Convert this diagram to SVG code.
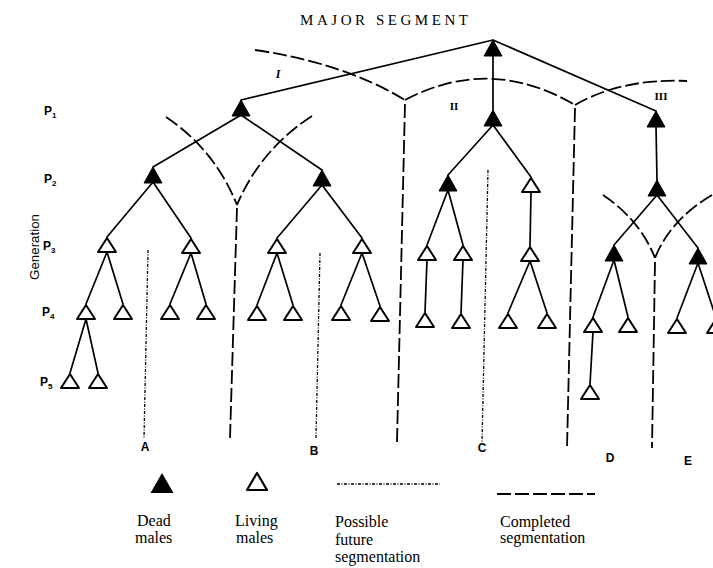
<svg xmlns="http://www.w3.org/2000/svg" xmlns:xlink="http://www.w3.org/1999/xlink" width="713" height="568" viewBox="0 0 713 568">
<style>
.t{stroke:#000;stroke-width:1.7;fill:none;stroke-linecap:round}
.c{stroke:#000;stroke-width:1.8;fill:none;stroke-dasharray:14 4}
.f{stroke:#000;stroke-width:1.3;fill:none;stroke-dasharray:3 1.5 1 1.5}
.serif{font-family:"Liberation Serif","Times New Roman",serif;fill:#000}
.sans{font-family:"Liberation Sans",Arial,sans-serif;fill:#000}
.p{font-size:12px;font-weight:bold}
.l{font-size:12px;font-weight:bold}
</style>
<defs>
<path id="dead" d="M0,0 L9,16 L-9,16 Z" fill="#000" stroke="#000" stroke-width="1"/>
<path id="live" d="M0,1 L9,15 L-9,15 Z" fill="#fff" stroke="#000" stroke-width="2" stroke-linejoin="round"/>
</defs>
<rect width="713" height="568" fill="#fff"/>
<text class="serif" x="300" y="25" font-size="15" textLength="168" lengthAdjust="spacing">MAJOR SEGMENT</text>

<g id="labels">
<text class="sans p" x="44" y="115">P<tspan font-size="8" dy="3">1</tspan></text>
<text class="sans p" x="44" y="183">P<tspan font-size="8" dy="3">2</tspan></text>
<text class="sans p" x="43" y="250">P<tspan font-size="8" dy="3">3</tspan></text>
<text class="sans p" x="42" y="316">P<tspan font-size="8" dy="3">4</tspan></text>
<text class="sans p" x="40" y="386">P<tspan font-size="8" dy="3">5</tspan></text>
<text class="sans" transform="translate(39,247) rotate(-90)" text-anchor="middle" font-size="12" textLength="66" lengthAdjust="spacingAndGlyphs">Generation</text>
<text class="serif" x="278" y="78" font-size="12" font-style="italic" font-weight="bold" text-anchor="middle">I</text>
<text class="serif" x="454" y="110" font-size="11" font-weight="bold" text-anchor="middle">II</text>
<text class="serif" x="661" y="100" font-size="11" font-weight="bold" text-anchor="middle">III</text>
<text class="sans l" x="145" y="451" text-anchor="middle">A</text>
<text class="sans l" x="314" y="455" text-anchor="middle">B</text>
<text class="sans l" x="482" y="452" text-anchor="middle">C</text>
<text class="sans l" x="610" y="462" text-anchor="middle">D</text>
<text class="sans l" x="688" y="465" text-anchor="middle">E</text>
</g>

<g id="connectors">
<path class="c" d="M255,50 Q344,63 405,100"/>
<path class="c" d="M405,100 Q490,55 575,105"/>
<path class="c" d="M575,105 Q622,78 687,81"/>
<path class="c" d="M405,104 L397,442"/>
<path class="c" d="M575,108 L567,448"/>
<path class="c" d="M166,117 Q215,150 237,205"/>
<path class="c" d="M312,116 Q260,150 237,205"/>
<path class="c" d="M237,208 L230,438"/>
<path class="c" d="M603,195 Q640,220 655,258"/>
<path class="c" d="M712,195 Q670,220 655,258"/>
<path class="c" d="M655,262 L652,448"/>
<path class="f" d="M148,250 L144,438"/>
<path class="f" d="M320,253 L316,438"/>
<path class="f" d="M488,170 L482,443"/>
<path class="t" d="M493,40 L241,100 M493,40 L656,111 M493,55 L493,110"/>
<path class="t" d="M241,115 L153,167 M241,115 L322,170"/>
<path class="t" d="M493,125 L448,175 M493,125 L531,177"/>
<path class="t" d="M656,126 L657,180"/>
<path class="t" d="M153,182 L107,237 M153,182 L191,238"/>
<path class="t" d="M322,185 L277,238 M322,185 L362,238"/>
<path class="t" d="M448,190 L427,245 M448,190 L463,245"/>
<path class="t" d="M531,192 L530,246"/>
<path class="t" d="M657,195 L614,245 M657,195 L698,248"/>
<path class="t" d="M107,252 L86,304 M107,252 L123,304"/>
<path class="t" d="M191,253 L170,304 M191,253 L206,304"/>
<path class="t" d="M277,253 L257,305 M277,253 L293,305"/>
<path class="t" d="M362,253 L341,305 M362,253 L380,306"/>
<path class="t" d="M427,260 L425,312 M463,260 L461,313"/>
<path class="t" d="M530,261 L508,313 M530,261 L547,313"/>
<path class="t" d="M614,260 L593,317 M614,260 L628,317"/>
<path class="t" d="M698,263 L677,318 M698,263 L716,318"/>
<path class="t" d="M86,319 L70,373 M86,319 L98,373"/>
<path class="t" d="M593,332 L590,384"/>
</g>

<g id="n-top"><use xlink:href="#dead" x="493" y="40"/></g>
<g id="n-I"><use xlink:href="#dead" x="241" y="100"/></g>
<g id="n-II"><use xlink:href="#dead" x="493" y="110"/></g>
<g id="n-III"><use xlink:href="#dead" x="656" y="111"/></g>
<g id="n-p2-1"><use xlink:href="#dead" x="153" y="167"/></g>
<g id="n-p2-2"><use xlink:href="#dead" x="322" y="170"/></g>
<g id="n-p2-3"><use xlink:href="#dead" x="448" y="175"/></g>
<g id="n-p2-4"><use xlink:href="#live" x="531" y="177"/></g>
<g id="n-p2-5"><use xlink:href="#dead" x="657" y="180"/></g>
<g id="n-p3-1"><use xlink:href="#live" x="107" y="237"/></g>
<g id="n-p3-2"><use xlink:href="#live" x="191" y="238"/></g>
<g id="n-p3-3"><use xlink:href="#live" x="277" y="238"/></g>
<g id="n-p3-4"><use xlink:href="#live" x="362" y="238"/></g>
<g id="n-p3-5"><use xlink:href="#live" x="427" y="245"/></g>
<g id="n-p3-6"><use xlink:href="#live" x="463" y="245"/></g>
<g id="n-p3-7"><use xlink:href="#live" x="530" y="246"/></g>
<g id="n-p3-8"><use xlink:href="#dead" x="614" y="245"/></g>
<g id="n-p3-9"><use xlink:href="#dead" x="698" y="248"/></g>
<g id="n-p4-1"><use xlink:href="#live" x="86" y="304"/></g>
<g id="n-p4-2"><use xlink:href="#live" x="123" y="304"/></g>
<g id="n-p4-3"><use xlink:href="#live" x="170" y="304"/></g>
<g id="n-p4-4"><use xlink:href="#live" x="206" y="304"/></g>
<g id="n-p4-5"><use xlink:href="#live" x="257" y="305"/></g>
<g id="n-p4-6"><use xlink:href="#live" x="293" y="305"/></g>
<g id="n-p4-7"><use xlink:href="#live" x="341" y="305"/></g>
<g id="n-p4-8"><use xlink:href="#live" x="380" y="306"/></g>
<g id="n-p4-9"><use xlink:href="#live" x="425" y="312"/></g>
<g id="n-p4-10"><use xlink:href="#live" x="461" y="313"/></g>
<g id="n-p4-11"><use xlink:href="#live" x="508" y="313"/></g>
<g id="n-p4-12"><use xlink:href="#live" x="547" y="313"/></g>
<g id="n-p4-13"><use xlink:href="#live" x="593" y="317"/></g>
<g id="n-p4-14"><use xlink:href="#live" x="628" y="317"/></g>
<g id="n-p4-15"><use xlink:href="#live" x="677" y="318"/></g>
<g id="n-p4-16"><use xlink:href="#live" x="716" y="318"/></g>
<g id="n-p5-1"><use xlink:href="#live" x="70" y="373"/></g>
<g id="n-p5-2"><use xlink:href="#live" x="98" y="373"/></g>
<g id="n-p5-3"><use xlink:href="#live" x="590" y="384"/></g>

<g id="legend">
<path d="M162,473 L173.5,493 L150.5,493 Z" fill="#000"/>
<path d="M257,473 L267,490 L247,490 Z" fill="#fff" stroke="#000" stroke-width="2.2" stroke-linejoin="round"/>
<path class="f" d="M337,484 L440,484" stroke-width="1.6"/>
<path class="c" d="M497,494 L595,494" stroke-dasharray="30 3 20 3"/>
<text class="serif" font-size="16" x="137" y="526">Dead</text>
<text class="serif" font-size="16" x="135" y="543">males</text>
<text class="serif" font-size="16" x="235" y="526">Living</text>
<text class="serif" font-size="16" x="236" y="543">males</text>
<text class="serif" font-size="16" x="335" y="527">Possible</text>
<text class="serif" font-size="16" x="335" y="545">future</text>
<text class="serif" font-size="16" x="335" y="562">segmentation</text>
<text class="serif" font-size="16" x="500" y="527">Completed</text>
<text class="serif" font-size="16" x="500" y="543">segmentation</text>
</g>
</svg>
